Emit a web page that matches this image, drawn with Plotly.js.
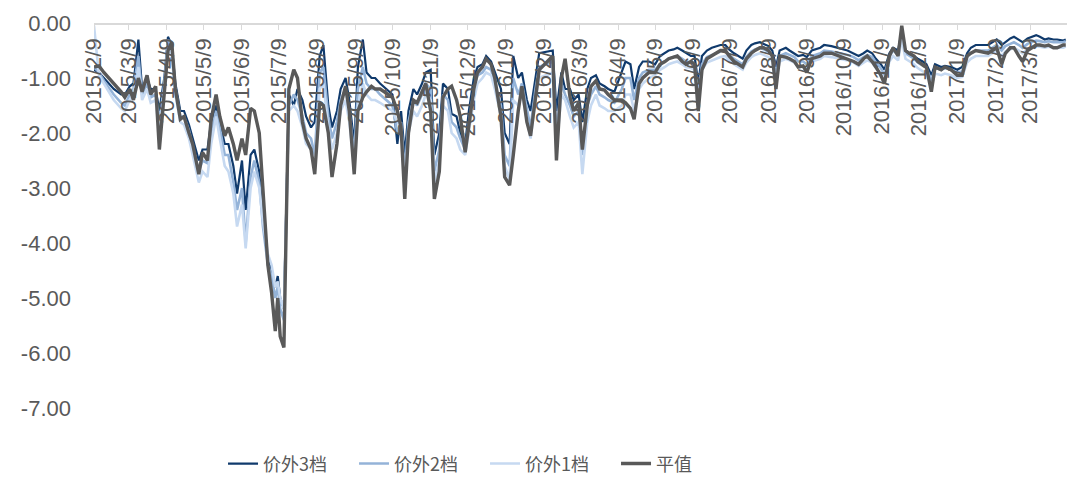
<!DOCTYPE html>
<html>
<head>
<meta charset="utf-8">
<script src="https://cdn.plot.ly/plotly-3.0.1.min.js"></script>
<style>
html,body{margin:0;padding:0;background:#fff;}
#chart{width:1074px;height:489px;}
</style>
</head>
<body>
<div id="chart"></div>
<script>
// Dates (trading days sampled)
const dates = [
"2015-02-09","2015-02-13","2015-02-17","2015-02-25","2015-03-03","2015-03-06","2015-03-10","2015-03-13","2015-03-17","2015-03-20",
"2015-03-24","2015-03-27","2015-03-31","2015-04-03","2015-04-07","2015-04-10","2015-04-13","2015-04-16","2015-04-20","2015-04-23",
"2015-04-27","2015-04-30","2015-05-05","2015-05-08","2015-05-12","2015-05-15","2015-05-19","2015-05-22","2015-05-26","2015-05-29",
"2015-06-02","2015-06-05","2015-06-09","2015-06-12","2015-06-16","2015-06-19","2015-06-23","2015-06-26","2015-06-30","2015-07-03",
"2015-07-06","2015-07-08","2015-07-10","2015-07-13","2015-07-15","2015-07-17","2015-07-21","2015-07-24","2015-07-28","2015-07-31",
"2015-08-04","2015-08-07","2015-08-11","2015-08-14","2015-08-18","2015-08-21","2015-08-25","2015-08-28","2015-09-01","2015-09-04",
"2015-09-08","2015-09-11","2015-09-15","2015-09-18","2015-09-22","2015-09-25","2015-09-29","2015-10-09","2015-10-13","2015-10-16",
"2015-10-19","2015-10-22","2015-10-26","2015-10-29","2015-11-02","2015-11-05","2015-11-09","2015-11-12","2015-11-16","2015-11-19",
"2015-11-23","2015-11-26","2015-11-30","2015-12-03","2015-12-07","2015-12-10","2015-12-14","2015-12-17","2015-12-21","2015-12-24",
"2015-12-28","2015-12-31","2016-01-05","2016-01-08","2016-01-12","2016-01-15","2016-01-19","2016-01-22","2016-01-26","2016-01-29",
"2016-02-02","2016-02-05","2016-02-16","2016-02-19","2016-02-23","2016-02-26","2016-03-01","2016-03-04","2016-03-08","2016-03-11",
"2016-03-15","2016-03-18","2016-03-22","2016-03-25","2016-03-29","2016-04-01","2016-04-06","2016-04-12","2016-04-15","2016-04-19",
"2016-04-22","2016-04-26","2016-04-29","2016-05-04","2016-05-09","2016-05-13","2016-05-17","2016-05-20","2016-05-24","2016-05-27",
"2016-05-31","2016-06-03","2016-06-07","2016-06-10","2016-06-13","2016-06-16","2016-06-20","2016-06-24","2016-06-28","2016-07-01",
"2016-07-05","2016-07-08","2016-07-12","2016-07-15","2016-07-19","2016-07-22","2016-07-26","2016-07-29","2016-08-02","2016-08-05",
"2016-08-09","2016-08-12","2016-08-15","2016-08-18","2016-08-23","2016-08-26","2016-08-30","2016-09-02","2016-09-06","2016-09-09",
"2016-09-13","2016-09-20","2016-09-23","2016-09-29","2016-10-12","2016-10-17","2016-10-21","2016-10-25","2016-10-28","2016-11-01",
"2016-11-04","2016-11-08","2016-11-11","2016-11-15","2016-11-18","2016-11-22","2016-11-25","2016-11-28","2016-12-01","2016-12-05",
"2016-12-08","2016-12-12","2016-12-15","2016-12-19","2016-12-22","2016-12-27","2016-12-30","2017-01-04","2017-01-09","2017-01-13",
"2017-01-17","2017-01-20","2017-01-24","2017-02-03","2017-02-07","2017-02-10","2017-02-14","2017-02-17","2017-02-21","2017-02-24",
"2017-02-28","2017-03-03","2017-03-07","2017-03-10","2017-03-14","2017-03-17","2017-03-21","2017-03-24","2017-03-28","2017-03-31",
"2017-04-05","2017-04-07"
];

// 价外3档
const otm3 = [
-0.85,-0.90,-1.00,-1.20,-1.30,-1.30,-1.15,-1.10,-0.30,-1.20,
-1.00,-1.20,-1.20,-1.60,-1.00,-0.25,-0.40,-1.10,-1.60,-1.60,
-1.85,-2.10,-2.50,-2.30,-2.30,-1.80,-1.50,-1.80,-2.20,-2.20,
-2.60,-3.10,-2.50,-3.40,-2.40,-2.30,-2.70,-3.60,-4.30,-4.50,
-4.80,-4.60,-5.00,-5.20,-3.40,-1.30,-1.50,-1.20,-1.40,-1.70,
-1.90,-1.80,-0.60,-0.40,-1.50,-1.90,-1.60,-1.20,-1.00,-1.40,
-2.20,-0.80,-0.30,-0.90,-1.00,-1.00,-1.10,-1.30,-2.20,-1.60,
-2.40,-1.60,-1.20,-1.30,-1.10,-0.90,-0.85,-2.40,-2.00,-1.10,
-1.20,-1.65,-1.70,-2.00,-2.20,-1.60,-1.00,-0.80,-0.75,-0.60,
-0.70,-0.90,-1.20,-2.00,-2.20,-0.60,-1.00,-0.90,-1.40,-1.60,
-1.00,-0.55,-0.50,-1.60,-0.90,-1.20,-1.20,-1.40,-1.30,-1.80,
-1.20,-1.00,-0.95,-1.10,-1.15,-1.20,-1.25,-0.90,-0.70,-0.75,
-1.20,-0.80,-0.70,-0.70,-0.75,-0.60,-0.55,-0.50,-0.48,-0.45,
-0.50,-0.55,-0.60,-0.60,-1.10,-0.60,-0.50,-0.45,-0.42,-0.40,
-0.40,-0.48,-0.55,-0.60,-0.65,-0.50,-0.40,-0.37,-0.35,-0.38,
-0.42,-0.50,-0.80,-0.50,-0.45,-0.50,-0.55,-0.60,-0.58,-0.62,
-0.50,-0.45,-0.40,-0.42,-0.50,-0.55,-0.60,-0.55,-0.50,-0.55,
-0.65,-0.75,-0.85,-0.55,-0.45,-0.50,-0.15,-0.50,-0.55,-0.60,
-0.65,-0.70,-0.75,-0.95,-0.75,-0.80,-0.78,-0.80,-0.85,-0.80,
-0.55,-0.45,-0.40,-0.40,-0.35,-0.30,-0.40,-0.35,-0.28,-0.25,
-0.30,-0.35,-0.28,-0.25,-0.22,-0.25,-0.30,-0.28,-0.30,-0.30,
-0.32,-0.30
];

// 价外2档
const otm2 = [
-0.80,-0.90,-1.05,-1.30,-1.45,-1.50,-1.30,-1.20,-0.60,-1.30,
-1.10,-1.35,-1.30,-1.80,-1.10,-0.30,-0.50,-1.20,-1.70,-1.70,
-1.95,-2.25,-2.70,-2.50,-2.55,-2.00,-1.60,-1.90,-2.40,-2.40,
-2.90,-3.40,-3.00,-4.00,-2.80,-2.50,-2.90,-3.70,-4.40,-4.60,
-5.00,-4.80,-5.20,-5.40,-3.50,-1.50,-1.30,-1.40,-1.70,-2.00,
-2.10,-2.40,-0.90,-0.80,-1.70,-2.10,-1.80,-1.40,-1.20,-1.60,
-2.40,-1.20,-0.80,-1.10,-1.20,-1.20,-1.30,-1.50,-2.00,-1.80,
-2.70,-1.80,-1.40,-1.50,-1.30,-1.10,-1.20,-2.70,-2.30,-1.30,
-1.40,-1.80,-1.90,-2.10,-2.30,-1.80,-1.20,-0.95,-0.90,-0.80,
-0.85,-1.10,-1.50,-2.40,-2.60,-1.00,-1.30,-1.10,-1.60,-1.90,
-1.20,-0.80,-0.70,-2.00,-1.10,-1.30,-1.50,-1.70,-1.60,-2.40,
-1.50,-1.30,-1.15,-1.30,-1.35,-1.40,-1.45,-1.20,-1.00,-1.00,
-1.40,-1.00,-0.90,-0.85,-0.85,-0.75,-0.70,-0.65,-0.62,-0.60,
-0.65,-0.70,-0.72,-0.75,-1.30,-0.75,-0.62,-0.58,-0.55,-0.52,
-0.50,-0.58,-0.65,-0.70,-0.75,-0.62,-0.52,-0.48,-0.45,-0.48,
-0.52,-0.60,-0.95,-0.60,-0.55,-0.58,-0.62,-0.70,-0.70,-0.75,
-0.60,-0.55,-0.50,-0.52,-0.58,-0.62,-0.68,-0.62,-0.58,-0.62,
-0.72,-0.82,-0.95,-0.60,-0.50,-0.58,-0.20,-0.55,-0.60,-0.65,
-0.72,-0.78,-0.82,-1.05,-0.82,-0.85,-0.82,-0.85,-0.90,-0.88,
-0.62,-0.55,-0.50,-0.50,-0.45,-0.40,-0.50,-0.42,-0.38,-0.35,
-0.40,-0.45,-0.38,-0.35,-0.32,-0.33,-0.35,-0.33,-0.35,-0.35,
-0.35,-0.33
];

// 价外1档
const otm1 = [
-0.05,-0.95,-1.10,-1.40,-1.55,-1.60,-1.40,-1.30,-0.80,-1.40,
-1.20,-1.45,-1.40,-2.00,-1.20,-0.40,-0.60,-1.30,-1.80,-1.85,
-2.10,-2.40,-2.90,-2.70,-2.80,-2.20,-1.70,-2.10,-2.60,-2.70,
-3.10,-3.70,-3.30,-4.10,-3.00,-2.70,-3.00,-3.60,-4.20,-4.40,
-4.80,-4.70,-5.00,-5.20,-3.40,-1.60,-1.50,-1.60,-1.90,-2.20,
-2.30,-2.60,-1.20,-1.10,-1.90,-2.30,-2.00,-1.60,-1.40,-1.80,
-2.60,-1.50,-1.10,-1.30,-1.40,-1.40,-1.45,-1.60,-1.80,-1.90,
-2.90,-2.00,-1.60,-1.70,-1.50,-1.30,-1.40,-2.90,-2.50,-1.50,
-1.60,-2.00,-2.10,-2.30,-2.40,-2.00,-1.40,-1.10,-1.00,-0.90,
-0.95,-1.20,-1.70,-2.60,-2.85,-1.40,-1.50,-1.30,-1.80,-2.10,
-1.40,-1.00,-0.90,-2.30,-1.30,-1.40,-1.70,-1.90,-1.80,-2.75,
-1.80,-1.50,-1.30,-1.50,-1.55,-1.60,-1.60,-1.50,-1.30,-1.30,
-1.60,-1.20,-1.10,-1.00,-0.95,-0.85,-0.80,-0.75,-0.72,-0.70,
-0.75,-0.80,-0.82,-0.85,-1.40,-0.85,-0.72,-0.68,-0.65,-0.62,
-0.60,-0.68,-0.75,-0.80,-0.85,-0.72,-0.62,-0.58,-0.55,-0.58,
-0.62,-0.70,-1.05,-0.70,-0.65,-0.68,-0.72,-0.80,-0.80,-0.85,
-0.70,-0.65,-0.60,-0.62,-0.68,-0.72,-0.78,-0.72,-0.68,-0.72,
-0.82,-0.92,-1.05,-0.70,-0.60,-0.68,-0.30,-0.65,-0.70,-0.75,
-0.82,-0.88,-0.92,-1.15,-0.92,-0.95,-0.92,-0.95,-1.00,-0.98,
-0.72,-0.65,-0.60,-0.60,-0.55,-0.50,-0.60,-0.52,-0.48,-0.45,
-0.50,-0.55,-0.48,-0.45,-0.42,-0.43,-0.45,-0.43,-0.45,-0.45,
-0.45,-0.43
];

// 平值
const atm = [
-0.80,-0.78,-0.90,-1.10,-1.25,-1.35,-1.20,-1.40,-1.00,-1.25,
-0.95,-1.30,-1.15,-2.30,-1.30,-0.50,-0.35,-1.20,-1.75,-1.70,
-2.00,-2.20,-2.75,-2.35,-2.50,-1.75,-1.30,-1.70,-2.05,-1.90,
-2.20,-2.50,-2.10,-2.40,-1.55,-1.60,-2.00,-3.10,-4.40,-4.90,
-5.60,-5.00,-5.70,-5.90,-3.60,-1.20,-0.85,-1.00,-1.80,-2.10,
-2.30,-2.75,-1.45,-1.50,-2.00,-2.80,-2.20,-1.50,-1.15,-1.60,
-2.75,-1.60,-1.35,-1.25,-1.15,-1.20,-1.20,-1.35,-1.60,-1.90,
-3.20,-2.00,-1.40,-1.45,-1.25,-1.10,-1.60,-3.20,-2.70,-1.35,
-1.20,-1.15,-1.40,-1.70,-2.35,-1.90,-1.20,-0.90,-0.80,-0.65,
-0.75,-1.00,-1.70,-2.80,-2.95,-2.40,-1.60,-1.15,-1.80,-2.05,
-1.30,-0.85,-0.60,-2.50,-1.00,-0.65,-1.35,-1.60,-1.45,-2.30,
-1.50,-1.15,-1.05,-1.20,-1.22,-1.30,-1.40,-1.40,-1.45,-1.55,
-1.75,-1.10,-1.00,-0.90,-0.90,-0.75,-0.70,-0.65,-0.62,-0.60,
-0.70,-0.75,-0.70,-0.75,-1.60,-0.85,-0.65,-0.60,-0.55,-0.50,
-0.50,-0.60,-0.70,-0.75,-0.80,-0.65,-0.55,-0.50,-0.45,-0.45,
-0.50,-0.60,-1.20,-0.60,-0.62,-0.65,-0.70,-0.80,-0.78,-0.90,
-0.65,-0.60,-0.55,-0.55,-0.65,-0.70,-0.75,-0.65,-0.60,-0.70,
-0.80,-0.95,-1.10,-0.60,-0.45,-0.60,-0.05,-0.50,-0.55,-0.60,
-0.70,-0.75,-0.80,-1.25,-0.80,-0.85,-0.80,-0.85,-0.95,-0.95,
-0.60,-0.55,-0.50,-0.55,-0.50,-0.45,-0.75,-0.55,-0.45,-0.45,
-0.60,-0.70,-0.50,-0.45,-0.40,-0.40,-0.42,-0.40,-0.45,-0.45,
-0.40,-0.40
];

const seriesNames = ["价外3档","价外2档","价外1档","平值"];
const seriesColors = ["#103A6C","#94B3D8","#C6D9F1","#595959"];
const seriesWidths = [2.2, 2.6, 2.6, 3.4];
const seriesData = [otm3, otm2, otm1, atm];

const yTickVals = [0,-1,-2,-3,-4,-5,-6,-7];
const yTickText = yTickVals.map(v => v.toFixed(2));

const traces = seriesData.map((vals, i) => ({
  type: "scatter",
  mode: "lines",
  name: seriesNames[i],
  x: dates,
  y: vals,
  line: {color: seriesColors[i], width: seriesWidths[i]},
  hoverinfo: "skip"
}));

const font = "Liberation Sans, Arial, Noto Sans CJK SC, sans-serif";

const layout = {
  width: 1074,
  height: 489,
  margin: {l: 94, r: 7, t: 23, b: 81},
  paper_bgcolor: "#ffffff",
  plot_bgcolor: "#ffffff",
  showlegend: true,
  font: {family: font, color: "#595959"},
  xaxis: {
    type: "date",
    range: ["2015-02-09", "2017-04-08"],
    anchor: "free",
    position: 1,
    side: "bottom",
    tick0: "2015-02-09",
    dtick: "M1",
    tickformat: "%Y/%-m/%-d",
    tickangle: -90,
    ticks: "outside",
    ticklen: 5,
    tickcolor: "#D9D9D9",
    showline: true,
    linecolor: "#D9D9D9",
    linewidth: 1.5,
    showgrid: false,
    zeroline: false,
    tickfont: {size: 22, color: "#595959", family: font}
  },
  yaxis: {
    range: [-7, 0],
    tickvals: yTickVals,
    ticktext: yTickText,
    showgrid: false,
    zeroline: false,
    showline: false,
    ticks: "",
    ticklabelstandoff: 22,
    tickfont: {size: 22, color: "#595959", family: font}
  },
  legend: {
    orientation: "h",
    x: 0.1326,
    xanchor: "left",
    y: -0.145,
    yanchor: "middle",
    entrywidth: 86,
    entrywidthmode: "pixels",
    font: {size: 18, color: "#595959", family: "Noto Sans CJK SC, sans-serif"},
    bgcolor: "rgba(0,0,0,0)"
  },
  hovermode: false
};

Plotly.newPlot("chart", traces, layout, {staticPlot: true, displayModeBar: false});
</script>
</body>
</html>
